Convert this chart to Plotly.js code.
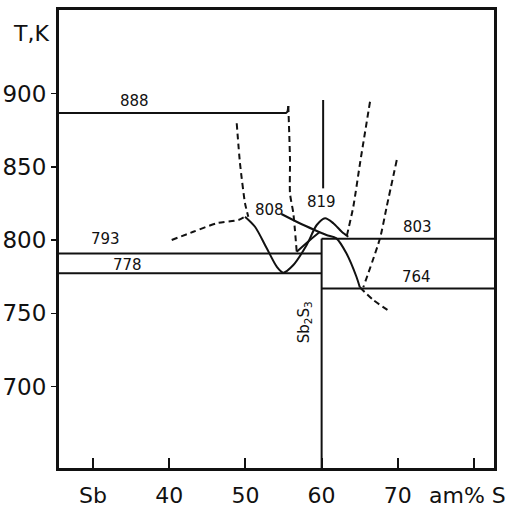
<!DOCTYPE html>
<html>
<head>
<meta charset="utf-8">
<script src="https://cdn.plot.ly/plotly-3.0.1.min.js"></script>
<style>html,body{margin:0;padding:0;background:#fff;}#chart{width:517px;height:511px;}</style>
</head>
<body>
<div id="chart"></div>
<script>
// Axis ticks
const xTickVals = [30, 40, 50, 60, 70, 80];
const xTickText = ['Sb', '40', '50', '60', '70', ' '];
const yTickVals = [700, 750, 800, 850, 900];

// Horizontal invariant lines (temperature, x start, x end)
const isoT  = [886.7, 790.9, 777.4, 801.0, 767.0];
const isoX0 = [25.5, 25.5, 25.5, 60.0, 60.0];
const isoX1 = [55.4, 60.0, 60.0, 82.7, 82.7];
const isoLabel = ['888', '793', '778', '803', '764'];
const isoLabelX = [35.5, 31.6, 34.5, 72.6, 72.4];
const isoLabelT = [894.8, 800.8, 783.0, 809.1, 775.0];

// Sb2S3 compound line
const compX = [60.0, 60.0];
const compT = [644.5, 801.0];
// upper solid vertical
const vertX = [60.2, 60.2];
const vertT = [895.6, 835.3];

// Solid curve A (808 -> min -> 819 peak)
const curveAX = [49.95, 51.26, 52.80, 54.11, 54.97, 56.29, 58.04, 59.36, 60.45, 61.54, 62.64, 63.50];
const curveAT = [816.0, 809.1, 794.4, 781.9, 777.8, 783.0, 796.7, 810.3, 814.9, 811.5, 805.7, 802.3];
// Solid curve B (from 808 down to 764)
const curveBX = [54.72, 57.12, 59.09, 60.63, 61.94, 63.25, 64.57, 65.01];
const curveBT = [817.8, 811.5, 806.9, 803.5, 801.2, 791.0, 775.0, 767.8];
// Solid curve C (parallel branch)
const curveCX = [56.73, 58.48, 59.79];
const curveCT = [792.1, 800.1, 805.7];
// 888 hook
const hookX = [55.3, 55.5, 55.63];
const hookT = [886.7, 887.6, 891.5];

// Dashed curves
const d1X = [40.33, 43.16, 46.23, 49.07, 49.95];
const d1T = [800.1, 805.7, 811.5, 813.7, 816.0];
const d2X = [48.86, 49.29, 49.95, 50.38];
const d2T = [879.7, 852.4, 825.1, 816.0];
const d3X = [55.63, 55.85, 55.85, 56.29, 56.73];
const d3T = [891.5, 854.7, 831.9, 818.3, 792.1];
const d4X = [66.35, 65.04, 64.16, 63.28];
const d4T = [894.4, 852.4, 822.8, 802.3];
const d5X = [69.86, 68.54, 67.66, 65.47];
const d5T = [854.6, 822.8, 801.2, 767.8];
const d6X = [65.01, 66.78, 68.98];
const d6T = [767.8, 759.1, 751.2];

const solid = {color: '#111', width: 2};
const dashed = {color: '#111', width: 2, dash: '6px,4px'};

const traces = [];
for (let i = 0; i < isoT.length; i++) {
  traces.push({x: [isoX0[i], isoX1[i]], y: [isoT[i], isoT[i]], mode: 'lines', line: solid});
}
[[compX, compT], [vertX, vertT], [curveAX, curveAT], [curveBX, curveBT], [curveCX, curveCT], [hookX, hookT]].forEach(function (p) {
  traces.push({x: p[0], y: p[1], mode: 'lines', line: Object.assign({shape: 'spline', smoothing: 0.8}, solid)});
});
[[d1X, d1T], [d2X, d2T], [d3X, d3T], [d4X, d4T], [d5X, d5T], [d6X, d6T]].forEach(function (p) {
  traces.push({x: p[0], y: p[1], mode: 'lines', line: Object.assign({shape: 'spline', smoothing: 0.6}, dashed)});
});

const labelFont = {family: 'DejaVu Sans', size: 15, color: '#111'};
const annotations = [];
for (let i = 0; i < isoLabel.length; i++) {
  annotations.push({x: isoLabelX[i], y: isoLabelT[i], text: isoLabel[i], showarrow: false, font: labelFont});
}
annotations.push({x: 53.2, y: 820.5, text: '808', showarrow: false, font: labelFont});
annotations.push({x: 60.0, y: 826.2, text: '819', showarrow: false, font: labelFont});
annotations.push({x: 57.7, y: 744, text: 'Sb<sub>2</sub>S<sub>3</sub>', textangle: -90, showarrow: false, font: labelFont});
annotations.push({xref: 'paper', yref: 'paper', x: -0.064, y: 0.9476, xanchor: 'center', yanchor: 'middle',
  text: 'T,K', showarrow: false, font: {family: 'DejaVu Sans', size: 22, color: '#111'}});
annotations.push({xref: 'paper', yref: 'paper', x: 0.846, y: -0.059, xanchor: 'left', yanchor: 'middle',
  text: 'am% S', showarrow: false, font: {family: 'DejaVu Sans', size: 22, color: '#111'}});

const layout = {
  width: 517, height: 511,
  margin: {l: 59, r: 23, t: 10, b: 43},
  paper_bgcolor: '#fff', plot_bgcolor: '#fff',
  showlegend: false,
  font: {family: 'DejaVu Sans', color: '#111'},
  xaxis: {
    range: [25.54, 82.62], showgrid: false, zeroline: false,
    showline: true, mirror: true, linecolor: '#111', linewidth: 3,
    tickmode: 'array', tickvals: xTickVals, ticktext: xTickText,
    ticks: 'inside', ticklen: 10, tickwidth: 2, tickcolor: '#111',
    ticklabelstandoff: 6,
    tickfont: {family: 'DejaVu Sans', size: 22, color: '#111'}
  },
  yaxis: {
    range: [644.5, 957], showgrid: false, zeroline: false,
    showline: true, mirror: true, linecolor: '#111', linewidth: 3,
    tickmode: 'array', tickvals: yTickVals,
    ticks: 'outside', ticklen: 5, tickwidth: 1.5, tickcolor: '#111',
    tickfont: {family: 'DejaVu Sans', size: 23, color: '#111'}
  },
  annotations: annotations
};

Plotly.newPlot('chart', traces, layout, {displayModeBar: false, staticPlot: true});
</script>
</body>
</html>
